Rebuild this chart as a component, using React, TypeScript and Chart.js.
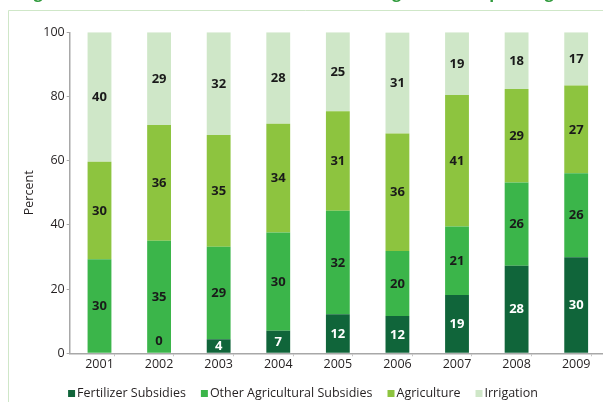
import { useEffect, useRef } from "react";
import { Chart, registerables } from "chart.js";

Chart.register(...registerables);

const years = [2001, 2002, 2003, 2004, 2005, 2006, 2007, 2008, 2009];

const fertilizerSubsidies = [0, 0, 4.4, 7.0, 12.2, 11.6, 18.2, 27.3, 29.9];
const otherAgriculturalSubsidies = [29.3, 35.1, 28.8, 30.6, 32.2, 20.3, 21.3, 25.9, 26.2];
const agriculture = [30.4, 36.0, 34.8, 33.9, 31.0, 36.6, 41.0, 29.1, 27.3];
const irrigation = [40.3, 28.9, 32.0, 28.5, 24.6, 31.4, 19.5, 17.7, 16.6];

const fertilizerLabels = ["", "0", "4", "7", "12", "12", "19", "28", "30"];
const otherLabels = ["30", "35", "29", "30", "32", "20", "21", "26", "26"];
const agricultureLabels = ["30", "36", "35", "34", "31", "36", "41", "29", "27"];
const irrigationLabels = ["40", "29", "32", "28", "25", "31", "19", "18", "17"];

const seriesNames = ["Fertilizer Subsidies", "Other Agricultural Subsidies", "Agriculture", "Irrigation"];
const seriesColors = ["#10653a", "#3bb54a", "#8dc43f", "#cfe7c8"];
const labelColors = ["#ffffff", "#1a1a1a", "#1a1a1a", "#1a1a1a"];
const yTicks = [0, 20, 40, 60, 80, 100];

const titleText = "Figure 2: Share of Fertilizer Subsidies in Total Agricultural Spending";

const FONT = '"Open Sans", "Noto Sans", sans-serif';
const AXIS_GRAY = "#a8a8a8";
const TEXT = "#231f20";

export default function App() {
  const ref = useRef<HTMLCanvasElement | null>(null);

  useEffect(() => {
    const canvas = ref.current;
    if (!canvas) return;
    const seriesValues = [fertilizerSubsidies, otherAgriculturalSubsidies, agriculture, irrigation];
    const seriesLabels = [fertilizerLabels, otherLabels, agricultureLabels, irrigationLabels];

    const tickValues: number[] = [];
    years.forEach((yr, i) => {
      tickValues.push(yr);
      if (i < years.length - 1) tickValues.push(yr + 0.5);
    });

    const framePlugin = {
      id: "frame",
      beforeDraw(chart: any) {
        const ctx = chart.ctx;
        ctx.save();
        ctx.fillStyle = "#ffffff";
        ctx.fillRect(0, 0, chart.width, chart.height);
        ctx.strokeStyle = "#cfe7c8";
        ctx.lineWidth = 1;
        ctx.beginPath();
        ctx.moveTo(8.5, chart.height);
        ctx.lineTo(8.5, 10.5);
        ctx.lineTo(chart.width, 10.5);
        ctx.stroke();
        ctx.font = `bold 16px ${FONT}`;
        ctx.fillStyle = "#2f9a3c";
        ctx.textBaseline = "alphabetic";
        ctx.textAlign = "left";
        ctx.fillText(titleText, 20, -2.5);
        ctx.restore();
      },
    };

    const labelPlugin = {
      id: "barLabels",
      afterDatasetsDraw(chart: any) {
        const ctx = chart.ctx;
        ctx.save();
        ctx.font = `bold 13px ${FONT}`;
        ctx.textAlign = "center";
        ctx.textBaseline = "middle";
        chart.data.datasets.forEach((ds: any, i: number) => {
          const meta = chart.getDatasetMeta(i);
          meta.data.forEach((bar: any, j: number) => {
            const text = seriesLabels[i][j];
            if (!text) return;
            const p = bar.getProps(["x", "y", "base"], true);
            let cy = (p.y + p.base) / 2;
            let color = labelColors[i];
            if (Math.abs(p.base - p.y) < 8) {
              cy = p.base - 13;
              color = "#1a1a1a";
            }
            ctx.fillStyle = color;
            ctx.fillText(text, p.x, cy + 0.5);
          });
        });
        ctx.restore();
      },
    };

    const legendPlugin = {
      id: "customLegend",
      afterDraw(chart: any) {
        const ctx = chart.ctx;
        ctx.save();
        ctx.font = `12.5px ${FONT}`;
        ctx.textBaseline = "middle";
        ctx.textAlign = "left";
        const box = 7;
        const gap = 2;
        const between = 15;
        const widths = seriesNames.map((n) => box + gap + ctx.measureText(n).width);
        const total = widths.reduce((a, b) => a + b, 0) + between * (widths.length - 1);
        let x = 303 - total / 2;
        const cy = 393;
        seriesNames.forEach((n, i) => {
          ctx.fillStyle = seriesColors[i];
          ctx.fillRect(x, cy - 3, box, box);
          ctx.fillStyle = TEXT;
          ctx.fillText(n, x + box + gap, cy);
          x += widths[i] + between;
        });
        ctx.restore();
      },
    };

    const chart = new Chart(canvas, {
      type: "bar",
      data: {
        datasets: seriesNames.map((name, i) => ({
          label: name,
          data: years.map((yr, j) => ({ x: yr, y: seriesValues[i][j] })),
          backgroundColor: seriesColors[i],
          borderWidth: 0,
          barPercentage: 1,
          categoryPercentage: 0.8,
        })),
      },
      options: {
        animation: false,
        responsive: true,
        maintainAspectRatio: false,
        layout: { padding: { top: 32.3, left: 0, right: 0, bottom: 0 } },
        plugins: {
          legend: { display: false },
          tooltip: { enabled: false },
        },
        scales: {
          x: {
            type: "linear",
            min: 2000.5,
            max: 2009.45,
            stacked: true,
            offset: false,
            afterBuildTicks: (scale: any) => {
              scale.ticks = tickValues.map((v) => ({ value: v }));
            },
            afterFit: (scale: any) => {
              scale.height = 48.7;
            },
            grid: {
              drawOnChartArea: false,
              drawTicks: true,
              tickLength: 3,
              color: (c: any) =>
                c.tick && Number.isInteger(c.tick.value) ? "rgba(0,0,0,0)" : "#c4c4c4",
            },
            border: { color: AXIS_GRAY, width: 1.5 },
            ticks: {
              autoSkip: false,
              maxRotation: 0,
              minRotation: 0,
              padding: 1,
              color: TEXT,
              font: { family: FONT, size: 12.5 },
              callback: (v: any) => (Number.isInteger(v) ? String(v) : ""),
            },
          },
          y: {
            type: "linear",
            min: 0,
            max: 100,
            stacked: true,
            afterBuildTicks: (scale: any) => {
              scale.ticks = yTicks.map((v) => ({ value: v }));
            },
            afterFit: (scale: any) => {
              scale.width = 69.7;
            },
            grid: {
              drawOnChartArea: false,
              drawTicks: true,
              tickLength: 3,
              color: AXIS_GRAY,
            },
            border: { color: AXIS_GRAY, width: 1.5 },
            ticks: {
              padding: 2,
              color: TEXT,
              font: { family: FONT, size: 12.5 },
              callback: (v: any) => String(v),
            },
            title: {
              display: true,
              text: "Percent",
              color: TEXT,
              font: { family: FONT, size: 12.5 },
              padding: { top: 22, bottom: 0 },
            },
          },
        },
      },
      plugins: [framePlugin, labelPlugin, legendPlugin],
    } as any);

    return () => chart.destroy();
  }, []);

  return (
    <div style={{ position: "fixed", left: 0, top: 0, width: 603, height: 402 }}>
      <canvas ref={ref} />
    </div>
  );
}
